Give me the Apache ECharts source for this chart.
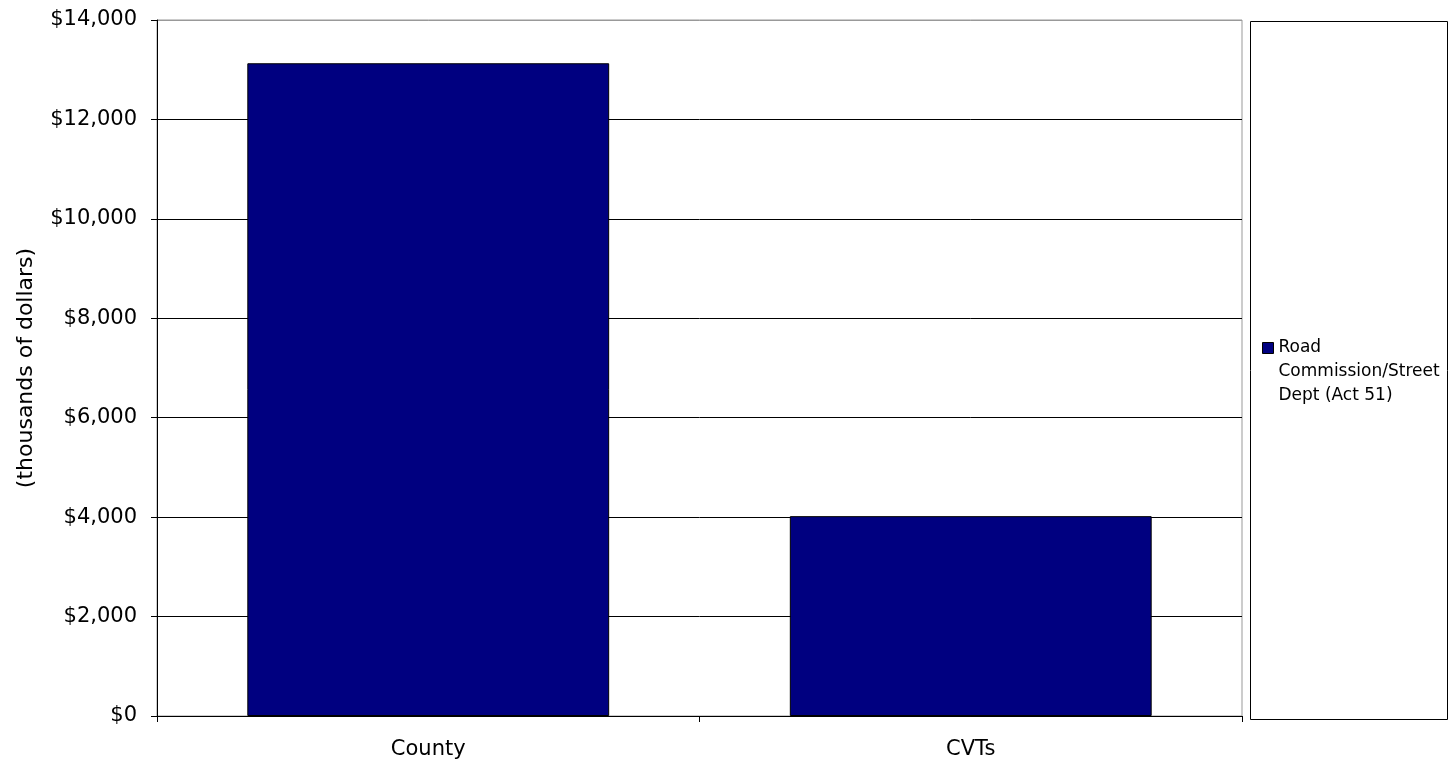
<!DOCTYPE html>
<html>
<head>
<meta charset="utf-8">
<script src="https://cdn.jsdelivr.net/npm/echarts@6/dist/echarts.min.js"></script>
<style>
html,body{margin:0;padding:0;background:#fff;}
#chart{width:1451px;height:768px;}
</style>
</head>
<body>
<div id="chart"></div>
<script>
const categories = ['County', 'CVTs'];
const seriesName = 'Road Commission/Street Dept (Act 51)';
const legendLabel = '\n\nRoad\nCommission/Street\nDept (Act 51)';
const values = [13130, 4020];
const yAxisTitle = '(thousands of dollars)';

const chart = echarts.init(document.getElementById('chart'), null, {renderer: 'canvas'});
const font = 'DejaVu Sans';
chart.setOption({
  animation: false,
  backgroundColor: '#ffffff',
  grid: {left: 157, right: 209, top: 20, bottom: 52, show: true, borderColor: '#999', borderWidth: 1},
  legend: {
    data: [seriesName],
    left: 1262,
    top: 288,
    padding: 0,
    itemWidth: 11,
    itemHeight: 11,
    icon: 'rect',
    itemStyle: {borderColor: '#000', borderWidth: 1},
    formatter: function () { return legendLabel; },
    textStyle: {fontFamily: font, fontSize: 17, color: '#000', lineHeight: 24}
  },
  graphic: [{
    type: 'rect', shape: {x: 1250.5, y: 21.5, width: 197, height: 698},
    style: {fill: 'none', stroke: '#000', lineWidth: 1}, z: 0
  }],
  xAxis: {
    type: 'category',
    data: categories,
    axisLine: {lineStyle: {color: '#000', width: 1}},
    axisTick: {show: true, length: 6, lineStyle: {color: '#000'}},
    axisLabel: {fontFamily: font, fontSize: 21, color: '#000', margin: 23}
  },
  yAxis: {
    type: 'value',
    min: 0, max: 14000, interval: 2000,
    name: yAxisTitle,
    nameLocation: 'middle',
    nameGap: 120,
    nameRotate: 90,
    nameTextStyle: {fontFamily: font, fontSize: 22, color: '#000'},
    axisLine: {show: true, lineStyle: {color: '#000', width: 1}},
    axisTick: {show: true, length: 6, lineStyle: {color: '#000'}},
    axisLabel: {
      fontFamily: font, fontSize: 21, color: '#000', margin: 20,
      formatter: function (v) { return '$' + v.toLocaleString('en-US'); }
    },
    splitLine: {show: true, lineStyle: {color: ['#000', '#000', '#000', '#000', '#000', '#000', '#000', '#999'], width: 1}}
  },
  series: [{
    name: seriesName,
    type: 'bar',
    data: values,
    barCategoryGap: '33.3%',
    itemStyle: {color: '#000080', borderColor: '#000', borderWidth: 1}
  }]
});
</script>
</body>
</html>
